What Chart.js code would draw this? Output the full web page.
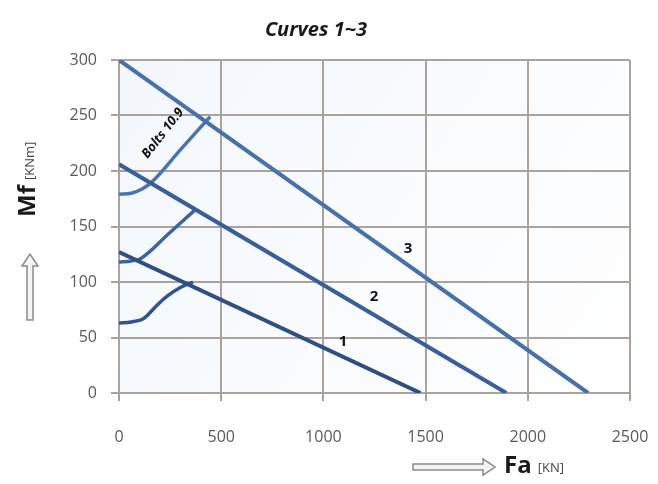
<!DOCTYPE html>
<html>
<head>
<meta charset="utf-8">
<script src="https://cdn.jsdelivr.net/npm/chart.js@4/dist/chart.umd.min.js"></script>
<style>
  html, body { margin: 0; padding: 0; background: #ffffff; }
  #wrap { width: 658px; height: 484px; }
</style>
</head>
<body>
<div id="wrap"><canvas id="graph" width="658" height="484"></canvas></div>
<script>
// datos
var xTicks = [0, 500, 1000, 1500, 2000, 2500];
var yTicks = [0, 50, 100, 150, 200, 250, 300];

// rectas 1..3 (Fa, Mf)
var fa1 = [0, 1475];
var mf1 = [127, 0];
var fa2 = [0, 1895];
var mf2 = [206, 0];
var fa3 = [0, 2295];
var mf3 = [300, 0];

// curvas "Bolts 10.9"
var faB1 = [0, 60, 120, 180, 234, 300, 362];
var mfB1 = [63, 64, 67, 78, 87, 95, 100];
var faB2 = [0, 60, 105, 240, 372];
var mfB2 = [118, 119, 121, 143, 165];
var faB3 = [0, 60, 115, 160, 300, 446];
var mfB3 = [179, 180, 184, 190, 219, 249];

// etiquetas de las curvas
var etiquetas = [
    { texto: "1", fa: 1096, mf: 46 },
    { texto: "2", fa: 1248, mf: 87 },
    { texto: "3", fa: 1414, mf: 130 }
];
var etiquetaBolts = { texto: "Bolts 10.9", fa: 215, mf: 234 };

function puntos(xs, ys) {
    return xs.map(function(x, i) { return { x: x, y: ys[i] }; });
}

function serie(xs, ys, color, ancho, curva) {
    return {
        data: puntos(xs, ys),
        borderColor: color,
        borderWidth: ancho,
        pointRadius: 0,
        fill: false,
        cubicInterpolationMode: curva ? "monotone" : "default",
        tension: 0
    };
}

var tickFont = { family: "'Open Sans', 'Liberation Sans', sans-serif", size: 16 };

var fondo = {
    id: "fondo",
    beforeDraw: function(chart) {
        var a = chart.chartArea, c = chart.ctx;
        var g = c.createLinearGradient(a.left, a.top, a.right, a.bottom);
        g.addColorStop(0, "#f3f7fc");
        g.addColorStop(1, "#ffffff");
        c.save();
        c.fillStyle = g;
        c.fillRect(a.left, a.top, a.right - a.left, a.bottom - a.top);
        c.restore();
    }
};

function flechaHueca(c, x1, y1, x2, y2) {
    // flecha de contorno, de (x1,y1) hacia (x2,y2)
    var ang = Math.atan2(y2 - y1, x2 - x1);
    var len = Math.hypot(x2 - x1, y2 - y1);
    c.save();
    c.translate(x1, y1);
    c.rotate(ang);
    c.beginPath();
    c.moveTo(0, -3);
    c.lineTo(len - 12, -3);
    c.lineTo(len - 12, -8);
    c.lineTo(len, 0);
    c.lineTo(len - 12, 8);
    c.lineTo(len - 12, 3);
    c.lineTo(0, 3);
    c.closePath();
    c.fillStyle = "#f4f4f4";
    c.fill();
    c.strokeStyle = "#8a8a8a";
    c.lineWidth = 1.5;
    c.stroke();
    c.restore();
}

var textos = {
    id: "textos",
    afterDraw: function(chart) {
        var c = chart.ctx;
        var xs = chart.scales.x, ys = chart.scales.y;
        c.save();

        // titulo
        c.fillStyle = "#1a1a1a";
        c.font = "italic bold 20px 'Open Sans', 'Liberation Sans', sans-serif";
        c.textAlign = "center";
        c.textBaseline = "middle";
        c.fillText("Curves 1~3", 316, 30);

        // etiquetas 1..3
        c.font = "bold 15px 'Open Sans', 'Liberation Sans', sans-serif";
        c.fillStyle = "#111111";
        etiquetas.forEach(function(e) {
            c.fillText(e.texto, xs.getPixelForValue(e.fa), ys.getPixelForValue(e.mf));
        });

        // Bolts 10.9
        c.save();
        c.translate(xs.getPixelForValue(etiquetaBolts.fa), ys.getPixelForValue(etiquetaBolts.mf));
        c.rotate(-52 * Math.PI / 180);
        c.font = "italic bold 13px 'Open Sans', 'Liberation Sans', sans-serif";
        c.fillText(etiquetaBolts.texto, 0, 0);
        c.restore();

        // titulo eje y
        c.save();
        c.translate(28, 217);
        c.rotate(-Math.PI / 2);
        c.textAlign = "left";
        c.textBaseline = "middle";
        c.fillStyle = "#1a1a1a";
        c.font = "bold 24px 'Open Sans', 'Liberation Sans', sans-serif";
        c.fillText("Mf", 0, 0);
        var w = c.measureText("Mf").width;
        c.font = "13px 'Open Sans', 'Liberation Sans', sans-serif";
        c.fillStyle = "#444444";
        c.fillText("[KNm]", w + 5, 2);
        c.restore();
        flechaHueca(c, 30, 320, 30, 254);

        // titulo eje x
        flechaHueca(c, 413, 467, 495, 467);
        c.textAlign = "left";
        c.textBaseline = "middle";
        c.fillStyle = "#1a1a1a";
        c.font = "bold 24px 'Open Sans', 'Liberation Sans', sans-serif";
        c.fillText("Fa", 504, 466);
        var wf = c.measureText("Fa").width;
        c.font = "13px 'Open Sans', 'Liberation Sans', sans-serif";
        c.fillStyle = "#444444";
        c.fillText("[KN]", 504 + wf + 6, 468);

        c.restore();
    }
};

var chart = new Chart(document.getElementById("graph").getContext("2d"), {
    type: "line",
    data: {
        datasets: [
            serie(fa1, mf1, "#2f4f82", 4, false),
            serie(fa2, mf2, "#3a5f98", 4, false),
            serie(fa3, mf3, "#4870ab", 4, false),
            serie(faB1, mfB1, "#34558a", 3.5, true),
            serie(faB2, mfB2, "#3e64a0", 3.5, true),
            serie(faB3, mfB3, "#4a74b0", 3.5, true)
        ]
    },
    options: {
        responsive: false,
        animation: false,
        layout: { padding: { top: 60, right: 28, left: 0, bottom: 0 } },
        plugins: {
            legend: { display: false },
            tooltip: { enabled: false },
            title: { display: false }
        },
        scales: {
            x: {
                type: "linear",
                min: xTicks[0],
                max: xTicks[xTicks.length - 1],
                afterBuildTicks: function(s) { s.ticks = xTicks.map(function(v) { return { value: v }; }); },
                afterFit: function(s) { s.height = 91; s.paddingLeft = 0; s.paddingRight = 0; },
                grid: { color: "#aaa29c", lineWidth: 2, tickLength: 8, drawTicks: true },
                border: { display: false },
                ticks: { color: "#5a5a5a", font: tickFont, padding: 27, maxRotation: 0,
                         callback: function(v) { return String(v); } }
            },
            y: {
                type: "linear",
                min: yTicks[0],
                max: yTicks[yTicks.length - 1],
                afterBuildTicks: function(s) { s.ticks = yTicks.map(function(v) { return { value: v }; }); },
                afterFit: function(s) { s.width = 119; s.paddingTop = 0; s.paddingBottom = 0; },
                grid: { color: "#aaa29c", lineWidth: 2, tickLength: 8, drawTicks: true },
                border: { display: false },
                ticks: { color: "#5a5a5a", font: tickFont, padding: 14,
                         callback: function(v) { return String(v); } }
            }
        }
    },
    plugins: [fondo, textos]
});
</script>
</body>
</html>
